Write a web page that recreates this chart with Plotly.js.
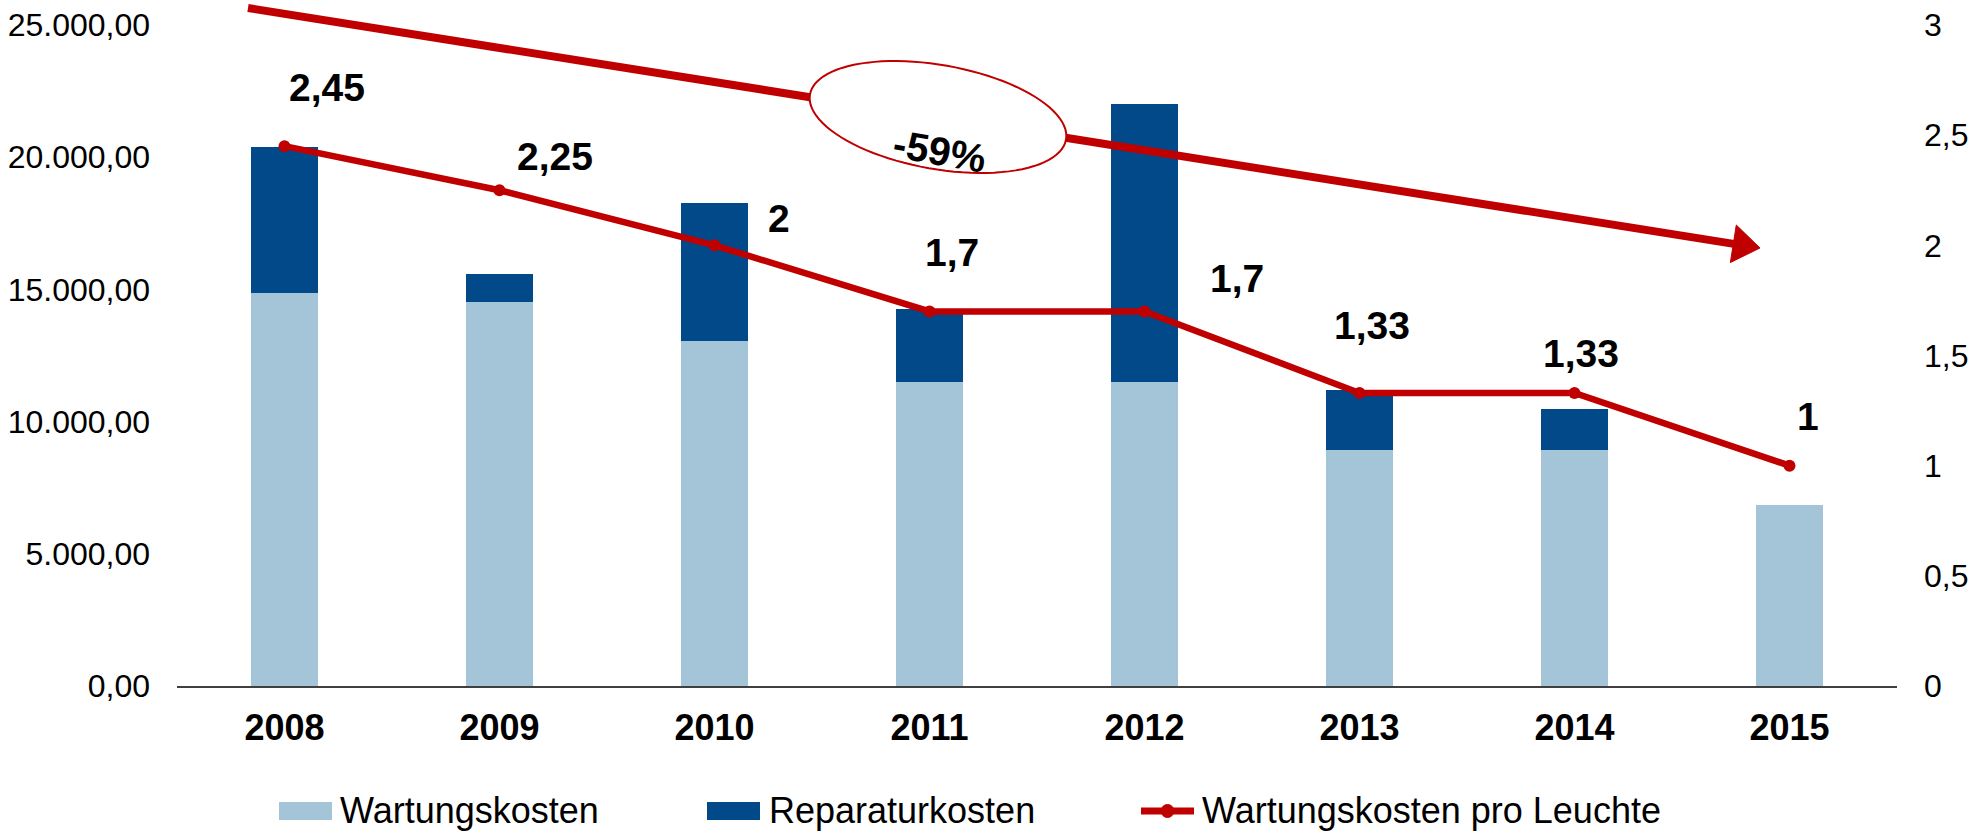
<!DOCTYPE html>
<html><head><meta charset="utf-8">
<script src="https://cdn.plot.ly/plotly-3.0.1.min.js"></script>
<style>html,body{margin:0;padding:0;background:#fff;}#chart{width:1987px;height:831px;}</style>
</head><body><div id="chart"></div>
<script>
// ---- data ----
const years = ['2008','2009','2010','2011','2012','2013','2014','2015'];
const wartungskosten = [14870,14540,13050,11500,11500,8910,8910,6860];
const reparaturkosten = [5530,1050,5230,2750,10530,2270,1550,0];
const proLeuchte = [2.45,2.25,2,1.7,1.7,1.33,1.33,1];
const seriesNames = ['Wartungskosten','Reparaturkosten','Wartungskosten pro Leuchte'];
const trendLabel = '-59%';
const leftTicks = [0,5000,10000,15000,20000,25000];
const rightTicks = [0,0.5,1,1.5,2,2.5,3];

// ---- styles ----
const C_LIGHT = '#A4C4D8', C_DARK = '#02498A', C_RED = '#C00000';
const FONT = 'Liberation Sans, Arial, Helvetica, sans-serif';
const labelShift = [[42,-59],[55,-34],[64,-27],[22,-59],[92,-33],[12,-67],[6,-39],[18,-49]];

const W=1987, H=831, M={l:177,r:90,t:25,b:145};
const PW=W-M.l-M.r, PH=H-M.t-M.b;
const px = X => (X-M.l)/PW;
const py = Y => (H-M.b-Y)/PH;

const traces = [
  {type:'bar', name:seriesNames[0], x:years, y:wartungskosten, marker:{color:C_LIGHT}, showlegend:false},
  {type:'bar', name:seriesNames[1], x:years, y:reparaturkosten, marker:{color:C_DARK}, showlegend:false},
  {type:'scatter', mode:'lines+markers', name:seriesNames[2], x:years, y:proLeuchte, yaxis:'y2',
   line:{color:C_RED, width:6.5}, marker:{color:C_RED, size:12}, showlegend:false}
];

// data labels (x given as category index)
const annotations = years.map((yr,i)=>({
  x:i, y:proLeuchte[i], xref:'x', yref:'y2', showarrow:false,
  text:String(proLeuchte[i]).replace('.',','),
  xshift:labelShift[i][0], yshift:-labelShift[i][1],
  font:{family:FONT, size:39, color:'#000', weight:700}
}));

// trend arrow (decorative)
const tail=[248,8], tip=[1760,248];
const dx=tip[0]-tail[0], dy=tip[1]-tail[1], len=Math.hypot(dx,dy);
const ux=dx/len, uy=dy/len, nx=-uy, ny=ux;
const headLen=27, headHalf=19;
const base=[tip[0]-headLen*ux, tip[1]-headLen*uy];
const shapes = [];
shapes.push({type:'line', xref:'paper', yref:'paper', x0:px(tail[0]), y0:py(tail[1]), x1:px(base[0]+2*ux), y1:py(base[1]+2*uy),
  line:{color:C_RED, width:8}, layer:'above'});
const c1=[base[0]+headHalf*nx, base[1]+headHalf*ny], c2=[base[0]-headHalf*nx, base[1]-headHalf*ny];
shapes.push({type:'path', xref:'paper', yref:'paper', layer:'above',
  path:`M${px(tip[0])},${py(tip[1])} L${px(c1[0])},${py(c1[1])} L${px(c2[0])},${py(c2[1])} Z`,
  fillcolor:C_RED, line:{color:C_RED, width:1}});
// ellipse
const ec=[938,117], ea=130, eb=52, th=10*Math.PI/180;
let ep='';
for(let k=0;k<=96;k++){
  const t=2*Math.PI*k/96;
  const X=ec[0]+ea*Math.cos(t)*Math.cos(th)-eb*Math.sin(t)*Math.sin(th);
  const Y=ec[1]+ea*Math.cos(t)*Math.sin(th)+eb*Math.sin(t)*Math.cos(th);
  ep += (k===0?'M':' L') + px(X).toFixed(5)+','+py(Y).toFixed(5);
}
ep+=' Z';
shapes.push({type:'path', xref:'paper', yref:'paper', layer:'above', path:ep, fillcolor:'#fff', line:{color:C_RED, width:2}});
annotations.push({xref:'paper', yref:'paper', x:px(939), y:py(119), text:trendLabel, showarrow:false, textangle:10,
  font:{family:FONT, size:40, color:'#000', weight:700}});

// manual legend
const legY=811;
const legItems=[
  {x:279, w:53, kind:'bar', color:C_LIGHT, textX:338},
  {x:707, w:53, kind:'bar', color:C_DARK, textX:767},
  {x:1138, w:59, kind:'line', color:C_RED, textX:1200}
];
legItems.forEach((it,i)=>{
  if(it.kind==='bar'){
    shapes.push({type:'rect', xref:'paper', yref:'paper', x0:px(it.x), x1:px(it.x+it.w), y0:py(legY+9), y1:py(legY-9),
      fillcolor:it.color, line:{width:0}});
  } else {
    shapes.push({type:'line', xref:'paper', yref:'paper', x0:px(it.x+3), x1:px(it.x+it.w-3), y0:py(legY), y1:py(legY),
      line:{color:it.color, width:7}});
    shapes.push({type:'circle', xref:'paper', yref:'paper', x0:px(it.x+it.w/2-6.5), x1:px(it.x+it.w/2+6.5), y0:py(legY+6.5), y1:py(legY-6.5),
      fillcolor:it.color, line:{color:it.color, width:1}});
  }
  annotations.push({xref:'paper', yref:'paper', x:px(it.textX), y:py(legY-1), xanchor:'left', yanchor:'middle',
    showarrow:false, text:seriesNames[i], font:{family:FONT, size:36, color:'#000'}});
});

const layout = {
  width:W, height:H, margin:M, paper_bgcolor:'#fff', plot_bgcolor:'#fff',
  separators:',.', barmode:'stack', bargap:0.69, showlegend:false,
  font:{family:FONT, color:'#000'},
  xaxis:{type:'category', range:[-0.5, years.length-0.5], showline:true, linecolor:'#404040', linewidth:2, ticks:'', showgrid:false,
    tickfont:{family:FONT, size:36, color:'#000', weight:700}, ticklabelstandoff:9},
  yaxis:{range:[0,25000], tickvals:leftTicks, tickformat:',.2f', showgrid:false, zeroline:false,
    tickfont:{family:FONT, size:32, color:'#000'}, ticklabelstandoff:26},
  yaxis2:{range:[0,3], tickvals:rightTicks, overlaying:'y', side:'right', showgrid:false, zeroline:false,
    tickfont:{family:FONT, size:32, color:'#000'}, ticklabelstandoff:26},
  shapes:shapes, annotations:annotations
};
Plotly.newPlot('chart', traces, layout, {displayModeBar:false, staticPlot:true});
</script></body></html>
